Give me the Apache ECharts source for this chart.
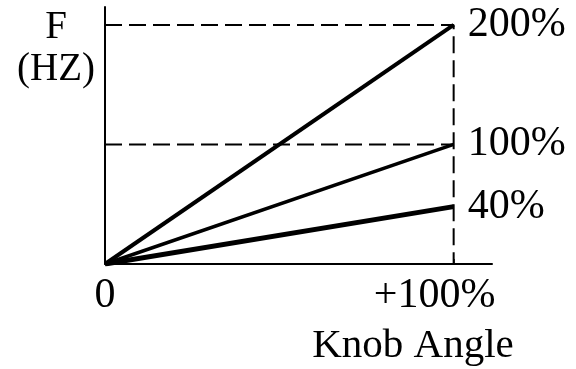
<!DOCTYPE html>
<html>
<head>
<meta charset="utf-8">
<script src="https://cdn.jsdelivr.net/npm/echarts@6/dist/echarts.min.js"></script>
<style>
  html, body { margin: 0; padding: 0; background: #fff; }
  #chart { width: 576px; height: 369px; }
</style>
</head>
<body>
<div id="chart"></div>
<script>
// knob angle (%) at start and end of each line
const knobAngle = [0, 100];
// frequency (%) for each setting
const freq200 = [0, 200];
const freq100 = [0, 100];
const freq40 = [0, 48];
const endLabels = ["200%", "100%", "40%"];
const xTickLabels = ["0", "+100%"];
// dashed guide lines
const guideTop = [[0, 200], [100, 200], [100, 0]];
const guideMid = [[0, 100], [100, 100]];

const font = "Liberation Serif";

function pairs(xs, ys) {
  return xs.map((x, i) => [x, ys[i]]);
}

const chart = echarts.init(document.getElementById("chart"));

const lineSeries = (values, label, width) => ({
  type: "line",
  data: pairs(knobAngle, values),
  symbol: "none",
  silent: true,
  lineStyle: { color: "#000", width: width },
  endLabel: {
    show: true,
    formatter: _ => label,
    distance: 14,
    fontFamily: font,
    fontSize: 42,
    color: "#000"
  }
});

const dashSeries = data => ({
  type: "line",
  data: data,
  symbol: "none",
  silent: true,
  lineStyle: { color: "#000", width: 2, type: [17, 7] }
});

let option = {
  animation: false,
  backgroundColor: "#fff",
  title: [
    {
      text: "F\n(HZ)",
      left: 51,
      top: 2,
      textAlign: "center",
      textStyle: { fontFamily: font, fontSize: 39, fontWeight: "normal", color: "#000", lineHeight: 42 }
    },
    {
      text: "Knob Angle",
      left: 408,
      top: 321,
      textAlign: "center",
      textStyle: { fontFamily: font, fontSize: 41, fontWeight: "normal", color: "#000" }
    }
  ],
  grid: { left: 105, right: 84, top: 7, bottom: 105 },
  xAxis: {
    type: "value",
    min: 0,
    max: 111,
    splitLine: { show: false },
    axisLine: { lineStyle: { color: "#000", width: 2 } },
    axisTick: { show: true, inside: true, length: 5, customValues: [100], lineStyle: { color: "#000", width: 1.5 } },
    axisLabel: {
      customValues: knobAngle,
      formatter: v => (v === 0 ? xTickLabels[0] : "{r|" + xTickLabels[1] + "}"),
      margin: 11,
      fontFamily: font,
      fontSize: 42,
      color: "#000",
      rich: {
        r: { fontFamily: font, fontSize: 42, color: "#000", padding: [0, 38, 0, 0] }
      }
    }
  },
  yAxis: {
    type: "value",
    min: 0,
    max: 215,
    splitLine: { show: false },
    axisLine: { show: true, lineStyle: { color: "#000", width: 2 } },
    axisTick: { show: false },
    axisLabel: { show: false }
  },
  series: [
    dashSeries(guideTop),
    dashSeries(guideMid),
    lineSeries(freq200, endLabels[0], 4),
    lineSeries(freq100, endLabels[1], 3.5),
    lineSeries(freq40, endLabels[2], 5)
  ]
};

chart.setOption(option);
</script>
</body>
</html>
